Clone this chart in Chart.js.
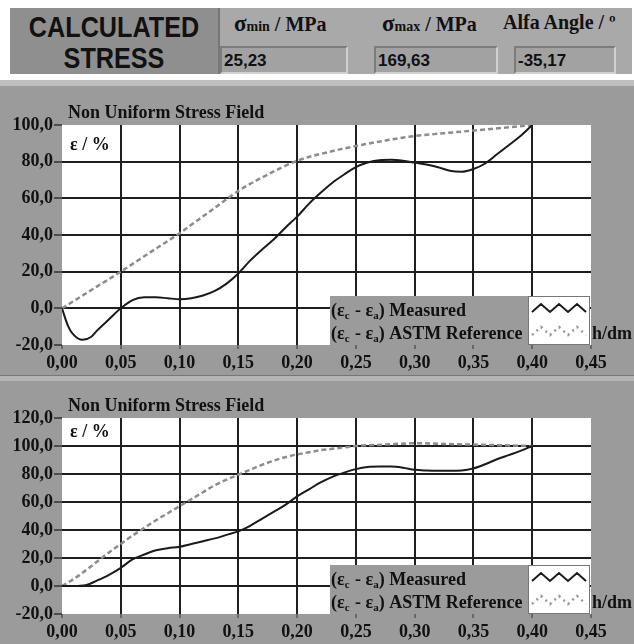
<!DOCTYPE html>
<html>
<head>
<meta charset="utf-8">
<script src="https://cdn.jsdelivr.net/npm/chart.js@4.4.1/dist/chart.umd.min.js"></script>
<style>
  html, body { margin: 0; padding: 0; }
  body { width: 634px; height: 644px; background: #fff; position: relative; overflow: hidden; font-family: "Liberation Serif", serif; }
  #hdr { position: absolute; left: 10px; top: 8px; width: 622px; height: 66px; background: #a9a9a9; }
  #hdr .big { position: absolute; left: 0; top: 0; width: 208px; height: 66px; background: #8f8f8f; border-right: 2px solid #777; }
  #hdr .big div { position: absolute; left: 0; width: 208px; text-align: center; font-family: "Liberation Sans", sans-serif; font-weight: bold; font-size: 30px; color: #111; transform: scaleX(0.84); }
  .lab { position: absolute; top: 3px; font-weight: bold; font-size: 20px; color: #111; white-space: nowrap; }
  .lab small { font-size: 14px; }
  .lab b { font-size: 23px; }
  .val { position: absolute; top: 38px; height: 24px; background: #a2a2a2; border: 2px solid #d0d0d0; border-top-color: #7c7c7c; border-left-color: #7c7c7c; font-family: "Liberation Sans", sans-serif; font-weight: bold; font-size: 17px; line-height: 25px; padding-left: 2px; color: #111; }
  #band { position: absolute; left: 0; top: 80px; width: 634px; height: 564px; background: #9b9b9b; }
  #strip { position: absolute; left: 0; top: 80px; width: 634px; height: 6px; background: #bdbdbd; }
  #sep { position: absolute; left: 0; top: 375px; width: 634px; height: 5px; background: #b4b4b4; border-top: 1px solid #777; }
  .cw { position: absolute; left: 0; width: 634px; }
</style>
</head>
<body>
<div id="hdr">
  <div class="big"><div style="top:2px">CALCULATED</div><div style="top:33px">STRESS</div></div>
  <div class="lab" style="left:224px"><b>σ</b><small>min</small> / MPa</div>
  <div class="lab" style="left:372px"><b>σ</b><small>max</small> / MPa</div>
  <div class="lab" style="left:493px">Alfa Angle / º</div>
  <div class="val" style="left:210px; width:122px">25,23</div>
  <div class="val" style="left:364px; width:118px">169,63</div>
  <div class="val" style="left:504px; width:96px">-35,17</div>
</div>
<div id="band"></div>
<div id="strip"></div>
<div id="sep"></div>
<div class="cw" style="top:90px; height:285px"><canvas id="c1"></canvas></div>
<div class="cw" style="top:380px; height:264px"><canvas id="c2"></canvas></div>
<script>
// h/dm positions
const xTicks = [0, 0.05, 0.10, 0.15, 0.20, 0.25, 0.30, 0.35, 0.40, 0.45];

// chart 1 - measured
const m1X = [0, 0.005, 0.009, 0.0176, 0.025, 0.03, 0.04, 0.05, 0.06, 0.07, 0.08, 0.09, 0.10, 0.11, 0.12, 0.13, 0.14, 0.15, 0.16, 0.17, 0.18, 0.19, 0.20, 0.21, 0.22, 0.23, 0.24, 0.25, 0.26, 0.27, 0.28, 0.29, 0.30, 0.31, 0.32, 0.33, 0.34, 0.35, 0.36, 0.37, 0.38, 0.39, 0.40];
const m1Y = [0, -9.4, -13.8, -17.2, -15.5, -12, -6, 0, 4.5, 6, 6, 5.5, 5, 5.5, 7, 9.5, 13.5, 19, 26, 32, 37.5, 44, 50, 57, 63, 68.5, 73, 77, 79.5, 80.8, 81, 80.5, 79.5, 78.5, 77, 75, 74.5, 76, 79, 84, 89, 94, 100];
// chart 1 - ASTM reference
const a1X = [0, 0.025, 0.05, 0.075, 0.10, 0.125, 0.15, 0.175, 0.20, 0.225, 0.25, 0.275, 0.30, 0.325, 0.35, 0.375, 0.40];
const a1Y = [0, 10, 20, 30.5, 41, 52.5, 64, 73, 80.5, 85, 88.5, 91.5, 94, 95.5, 97, 98.5, 100];

// chart 2 - measured
const m2X = [0, 0.01, 0.02, 0.03, 0.04, 0.05, 0.06, 0.07, 0.08, 0.09, 0.10, 0.11, 0.12, 0.13, 0.14, 0.15, 0.16, 0.17, 0.18, 0.19, 0.20, 0.21, 0.22, 0.23, 0.24, 0.25, 0.26, 0.27, 0.28, 0.29, 0.30, 0.31, 0.32, 0.33, 0.34, 0.35, 0.36, 0.37, 0.38, 0.39, 0.40];
const m2Y = [0, 0, 0.5, 4, 8, 13, 19, 22.5, 25.5, 27, 28, 30, 32, 34, 36.5, 39, 43, 48, 53, 58, 64, 69, 74, 78, 81, 83.5, 85, 85.3, 85.3, 84.5, 83, 82.5, 82.3, 82.3, 82.5, 84, 87, 90.5, 93.5, 96.5, 100];
// chart 2 - ASTM reference
const a2X = [0, 0.01, 0.02, 0.03, 0.04, 0.05, 0.06, 0.07, 0.08, 0.09, 0.10, 0.11, 0.12, 0.13, 0.14, 0.15, 0.16, 0.17, 0.18, 0.19, 0.20, 0.21, 0.22, 0.23, 0.24, 0.25, 0.275, 0.30, 0.325, 0.35, 0.375, 0.40];
const a2Y = [0, 5, 11, 17.5, 24, 30, 36, 41.5, 47, 52, 57, 62, 67, 72, 76, 79.5, 83, 86.5, 89.5, 92, 94, 95.5, 97, 98, 99, 100, 101, 102, 101.5, 101, 100.5, 100];

const seriesNames = ['Measured', 'ASTM Reference'];
const titleText = 'Non Uniform Stress Field';
const yUnit = 'ε / %';
const xUnit = 'h/dm';

function pts(xs, ys) {
    return xs.map((x, i) => ({ x: x, y: ys[i] }));
}

function comma(v, d) {
    return v.toFixed(d).replace('.', ',');
}

const serif = '"Liberation Serif", "Times New Roman", serif';

// white plot, title, unit label, legend box
const decorPlugin = {
    id: 'decor',
    beforeDraw(chart) {
        const a = chart.chartArea, c = chart.ctx;
        c.save();
        c.fillStyle = '#ffffff';
        c.fillRect(a.left, a.top, a.right - a.left, a.bottom - a.top);
        c.restore();
    },
    afterDraw(chart, args, opts) {
        const a = chart.chartArea, c = chart.ctx;
        c.save();
        c.fillStyle = '#111';
        c.font = 'bold 18px ' + serif;
        c.textBaseline = 'alphabetic';
        c.fillText(titleText, a.left + 6, a.top - 7);
        c.font = 'bold 18px ' + serif;
        c.fillText(yUnit, a.left + 8, a.top + opts.unitY);

        // legend
        const lx = 330, lw = 198, sw = 62;
        const ly = a.bottom - 49, lh = 49;
        c.fillStyle = '#9b9b9b';
        c.fillRect(lx, ly, lw, lh);
        c.fillStyle = '#fff';
        c.fillRect(lx + lw, ly, sw, lh);
        c.strokeStyle = '#777';
        c.lineWidth = 1;
        c.strokeRect(lx + lw + 0.5, ly + 0.5, sw - 1, lh - 1);

        seriesNames.forEach((name, i) => {
            const by = ly + 20 + i * 23;
            let x = lx + 1;
            c.fillStyle = '#111';
            c.font = 'bold 18px ' + serif;
            c.fillText('(ε', x, by); x += c.measureText('(ε').width;
            c.font = 'bold 11px ' + serif;
            c.fillText('c', x, by + 3); x += c.measureText('c').width + 1;
            c.font = 'bold 18px ' + serif;
            c.fillText(' - ε', x, by); x += c.measureText(' - ε').width;
            c.font = 'bold 11px ' + serif;
            c.fillText('a', x, by + 3); x += c.measureText('a').width;
            c.font = 'bold 18px ' + serif;
            c.fillText(') ' + name, x, by);

            // sample zigzag
            const sx = lx + lw + 4, yy = by - 8;
            c.beginPath();
            for (let k = 0; k <= 6; k++) {
                const px = sx + k * 9, py = yy + (k % 2 === 0 ? 4 : -4);
                if (k === 0) c.moveTo(px, py); else c.lineTo(px, py);
            }
            if (i === 0) {
                c.strokeStyle = '#1a1a1a'; c.lineWidth = 2; c.setLineDash([]);
            } else {
                c.strokeStyle = '#999'; c.lineWidth = 2.5; c.setLineDash([2, 4]);
            }
            c.stroke();
            c.setLineDash([]);
        });

        c.fillStyle = '#111';
        c.font = 'bold 18px ' + serif;
        c.fillText(xUnit, a.right + 1, a.bottom - 6);
        c.restore();
    }
};

function makeChart(id, mX, mY, aX, aY, yMin, yMax, padTop, unitY) {
    return new Chart(document.getElementById(id), {
        type: 'line',
        data: {
            datasets: [{
                label: seriesNames[0],
                data: pts(mX, mY),
                borderColor: '#1a1a1a',
                borderWidth: 2,
                pointRadius: 0,
                cubicInterpolationMode: 'monotone',
                order: 0
            }, {
                label: seriesNames[1],
                data: pts(aX, aY),
                borderColor: '#8c8c8c',
                borderWidth: 2.5,
                borderDash: [5, 3],
                pointRadius: 0,
                cubicInterpolationMode: 'monotone',
                order: 1
            }]
        },
        options: {
            responsive: true,
            maintainAspectRatio: false,
            animation: false,
            layout: { padding: { top: padTop, right: 43, left: 0, bottom: 0 } },
            plugins: {
                legend: { display: false },
                tooltip: { enabled: false },
                decor: { unitY: unitY }
            },
            scales: {
                x: {
                    type: 'linear',
                    min: 0,
                    max: 0.45,
                    afterBuildTicks: s => { s.ticks = xTicks.map(v => ({ value: v })); },
                    afterFit: s => { s.height = 30; },
                    border: { display: false },
                    grid: {
                        color: ctx => (ctx.index === 0 || ctx.index === xTicks.length - 1) ? 'rgba(0,0,0,0)' : '#1e1e1e',
                        lineWidth: 2,
                        tickColor: '#333',
                        tickLength: 4,
                        tickWidth: 1
                    },
                    ticks: {
                        color: '#111',
                        padding: 4,
                        maxRotation: 0,
                        font: { family: serif, size: 18, weight: 'bold' },
                        callback: v => comma(v, 2)
                    }
                },
                y: {
                    min: yMin,
                    max: yMax,
                    afterFit: s => { s.width = 62; },
                    border: { display: false },
                    grid: {
                        color: ctx => (ctx.tick && (ctx.tick.value === yMin || ctx.tick.value === yMax)) ? 'rgba(0,0,0,0)' : '#1e1e1e',
                        lineWidth: 2,
                        tickColor: '#333',
                        tickLength: 8,
                        tickWidth: 1.5
                    },
                    ticks: {
                        stepSize: 20,
                        color: '#111',
                        padding: 1,
                        font: { family: serif, size: 18, weight: 'bold' },
                        callback: v => comma(v, 1)
                    }
                }
            }
        },
        plugins: [decorPlugin]
    });
}

makeChart('c1', m1X, m1Y, a1X, a1Y, -20, 100, 35, 25);
makeChart('c2', m2X, m2Y, a2X, a2Y, -20, 120, 38, 19);
</script>
</body>
</html>
